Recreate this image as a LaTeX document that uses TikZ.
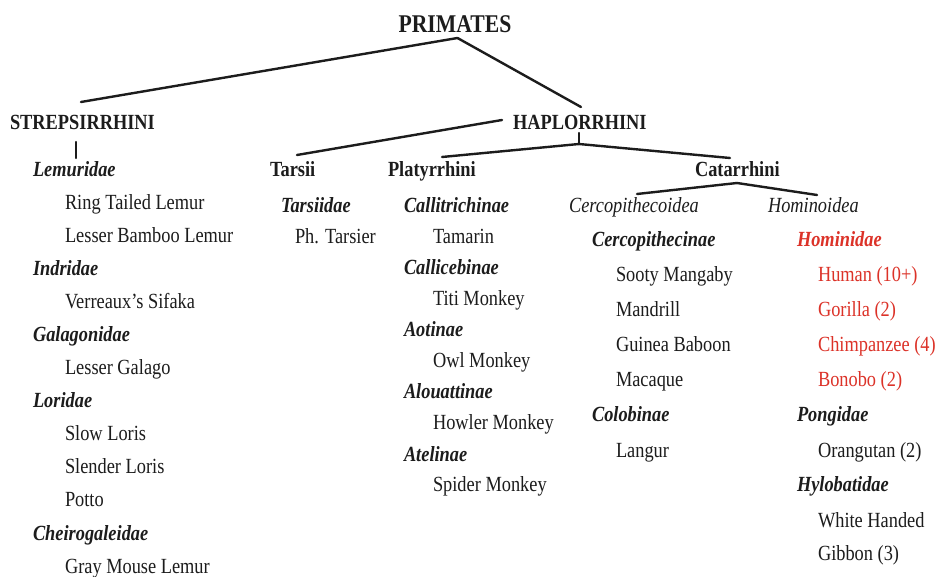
\documentclass[tikz,border=0pt]{standalone}
\usepackage{fontspec}
\setmainfont{Liberation Serif}[FakeStretch=0.85]
\usetikzlibrary{calc}
\definecolor{ink}{RGB}{28,28,28}
\definecolor{hred}{RGB}{220,50,40}
\tikzset{
  txt/.style={inner sep=0pt, outer sep=0pt, anchor=base west, text=ink, font=\fontsize{21.6}{24}\selectfont},
  hdr/.style={txt, font=\fontsize{21.6}{24}\selectfont\bfseries},
  famname/.style={txt, font=\fontsize{21.6}{24}\selectfont\bfseries\itshape},
  supname/.style={txt, font=\fontsize{21.6}{24}\selectfont\itshape},
  spname/.style={txt},
  redtxt/.style={text=hred},
  branch/.style={draw=ink, line width=2.4pt, line cap=round}
}
\begin{document}
\begin{tikzpicture}[x=1pt,y=-1pt]
\useasboundingbox (0,0) rectangle (938,577);
\fill[white] (0,0) rectangle (938,577);
% top
\node[hdr, anchor=base, font=\fontsize{25.5}{28}\selectfont\bfseries] (primates) at (455,33) {PRIMATES};
\node[hdr] (strep) at (10,130) {STREPSIRRHINI};
\node[hdr] (hap) at (513,130) {HAPLORRHINI};
% strepsirrhini column
\node[famname] (lemur) at (33,177) {Lemuridae};
\node[spname] (s1) at (65,210) {Ring Tailed Lemur};
\node[spname] (s2) at (65,243) {Lesser Bamboo Lemur};
\node[famname] (indri) at (33,276) {Indridae};
\node[spname] (s3) at (65,309) {Verreaux’s Sifaka};
\node[famname] (galago) at (33,342) {Galagonidae};
\node[spname] (s4) at (65,375) {Lesser Galago};
\node[famname] (lori) at (33,408) {Loridae};
\node[spname] (s5) at (65,441) {Slow Loris};
\node[spname] (s6) at (65,474) {Slender Loris};
\node[spname] (s7) at (65,507) {Potto};
\node[famname] (cheiro) at (33,540) {Cheirogaleidae};
\node[spname] (s8) at (65,573) {Gray Mouse Lemur};
% tarsii
\node[hdr] (tarsii) at (270,177) {Tarsii};
\node[famname] (tarsiidae) at (281,213) {Tarsiidae};
\node[spname] (t1) at (295,244) {Ph. Tarsier};
% platyrrhini
\node[hdr] (platy) at (388,177) {Platyrrhini};
\node[famname] (calli) at (404,213) {Callitrichinae};
\node[spname] (p1) at (433,244) {Tamarin};
\node[famname] (callic) at (404,275) {Callicebinae};
\node[spname] (p2) at (433,306) {Titi Monkey};
\node[famname] (aot) at (404,337) {Aotinae};
\node[spname] (p3) at (433,368) {Owl Monkey};
\node[famname] (alou) at (404,399) {Alouattinae};
\node[spname] (p4) at (433,430) {Howler Monkey};
\node[famname] (atel) at (404,461) {Atelinae};
\node[spname] (p5) at (433,492) {Spider Monkey};
% catarrhini
\node[hdr] (cat) at (695,177) {Catarrhini};
\node[supname] (cercoid) at (569,213) {Cercopithecoidea};
\node[supname] (homoid) at (768,213) {Hominoidea};
\node[famname] (cercin) at (592,247) {Cercopithecinae};
\node[spname] (c1) at (616,282) {Sooty Mangaby};
\node[spname] (c2) at (616,317) {Mandrill};
\node[spname] (c3) at (616,352) {Guinea Baboon};
\node[spname] (c4) at (616,387) {Macaque};
\node[famname] (colob) at (592,422) {Colobinae};
\node[spname] (c5) at (616,457) {Langur};
\node[famname, redtxt] (homin) at (797,247) {Hominidae};
\node[spname, redtxt] (h1) at (818,282) {Human (10+)};
\node[spname, redtxt] (h2) at (818,317) {Gorilla (2)};
\node[spname, redtxt] (h3) at (818,352) {Chimpanzee (4)};
\node[spname, redtxt] (h4) at (818,387) {Bonobo (2)};
\node[famname] (pong) at (797,422) {Pongidae};
\node[spname] (h5) at (818,457) {Orangutan (2)};
\node[famname] (hylo) at (797,492) {Hylobatidae};
\node[spname] (h6) at (818,527) {White Handed};
\node[spname] (h7) at (818,560) {Gibbon (3)};
% connectors
\coordinate (papex) at ([shift={(2.5,5)}]primates.base);
\draw[branch] (papex) -- ([shift={(71,-28)}]strep.base west);
\draw[branch] (papex) -- ([shift={(68,-23)}]hap.base west);
\draw[branch] ([shift={(66,12)}]strep.base west) -- ([shift={(43,-19)}]lemur.base west);
\draw[branch] ([shift={(-11,-10)}]hap.base west) -- ([shift={(27,-22)}]tarsii.base west);
\coordinate (hjunc) at ([shift={(66,14)}]hap.base west);
\draw[branch] ([shift={(66,3)}]hap.base west) -- (hjunc);
\draw[branch] (hjunc) -- ([shift={(54,-20)}]platy.base west);
\draw[branch] (hjunc) -- ([shift={(35,-19)}]cat.base west);
\coordinate (capex) at ([shift={(42,6)}]cat.base west);
\draw[branch] (capex) -- ([shift={(68,-19)}]cercoid.base west);
\draw[branch] (capex) -- ([shift={(49,-18)}]homoid.base west);
\end{tikzpicture}
\end{document}
